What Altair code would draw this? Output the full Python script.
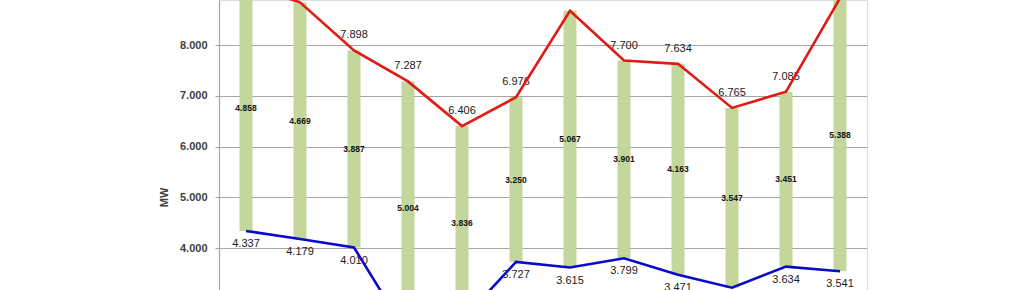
import altair as alt
import pandas as pd

months = ["Jan", "Feb", "Mar", "Apr", "May", "Jun", "Jul", "Aug", "Sep", "Oct", "Nov", "Dec"]
max_mw = [9195, 8848, 7898, 7287, 6406, 6976, 8682, 7700, 7634, 6765, 7085, 8929]
min_mw = [4337, 4179, 4010, 2283, 2570, 3727, 3615, 3799, 3471, 3218, 3634, 3541]
range_mw = [4858, 4669, 3887, 5004, 3836, 3250, 5067, 3901, 4163, 3547, 3451, 5388]
y_ticks = [3000, 4000, 5000, 6000, 7000, 8000, 9000]

df = pd.DataFrame({"month": months, "max": max_mw, "min": min_mw, "rng": range_mw})

FONT = "Liberation Sans"
fmt = lambda f: f"replace(format(datum['{f}'], ','), ',', '.')"

x = alt.X("month:N", sort=months, axis=None,
          scale=alt.Scale(paddingInner=0, paddingOuter=0), bandPosition=0.5)
yscale = alt.Scale(domain=[3172, 8894], nice=False, zero=False)

base = alt.Chart(df).transform_calculate(
    mid="(datum['min'] + datum['max']) / 2",
    lmax=fmt("max"),
    lmin=fmt("min"),
    lrng=fmt("rng"),
)

bars = base.mark_bar(size=13, color="#C3D69B", clip=True).encode(
    x=alt.X("month:N", sort=months, axis=None,
            scale=alt.Scale(paddingInner=0, paddingOuter=0)),
    y=alt.Y("min:Q", scale=yscale, title="MW",
            axis=alt.Axis(values=y_ticks,
                          labelExpr="replace(format(datum.value, ','), ',', '.')",
                          grid=True, gridColor="#A6A6A6", gridWidth=1.2,
                          domainColor="#A6A6A6", domainWidth=1.2,
                          tickColor="#A6A6A6", tickSize=4, tickWidth=1.2,
                          labelFont=FONT, labelFontSize=11, labelFontWeight="bold",
                          labelColor="#404040", labelPadding=8,
                          titleFont=FONT, titleFontSize=11, titleFontWeight="bold",
                          titleColor="#404040", titleX=-55, titleY=197,
                          titleAlign="center", titleBaseline="middle")),
    y2="max:Q",
)

rng_text = base.mark_text(font=FONT, fontSize=8.5, fontWeight="bold", color="#111111").encode(
    x=x, y=alt.Y("mid:Q", scale=yscale), text="lrng:N")

max_text = base.mark_text(font=FONT, fontSize=11, color="#1a1a1a", dy=-15).encode(
    x=x, y=alt.Y("max:Q", scale=yscale), text="lmax:N")

min_text = base.mark_text(font=FONT, fontSize=11, color="#1a1a1a", dy=13).encode(
    x=x, y=alt.Y("min:Q", scale=yscale), text="lmin:N")

max_line = base.mark_line(color="#E01B14", strokeWidth=2.6, clip=True).encode(
    x=x, y=alt.Y("max:Q", scale=yscale))

min_line = base.mark_line(color="#0A0ACC", strokeWidth=2.6, clip=True).encode(
    x=x, y=alt.Y("min:Q", scale=yscale))

chart = alt.layer(bars, rng_text, max_text, min_text, max_line, min_line).properties(
    width=648, height=290,
    autosize=alt.AutoSizeParams(type="none"),
    padding={"left": 219, "top": 0, "right": 157, "bottom": 0},
).configure_view(stroke=None).configure(background="white")

chart.save("out.html", embed_options={"renderer": "svg", "actions": False})
